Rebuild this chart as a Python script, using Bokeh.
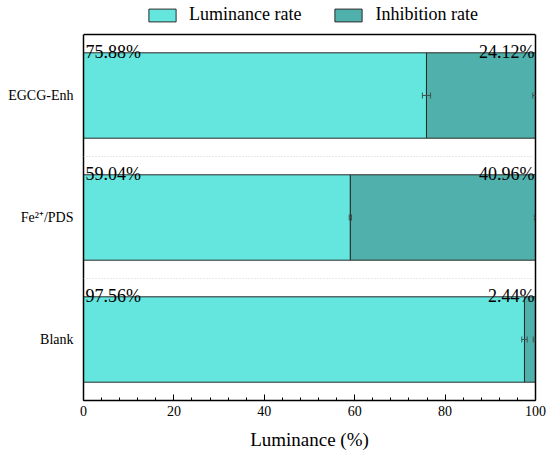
from bokeh.plotting import figure
from bokeh.models import (ColumnDataSource, Range1d, SingleIntervalTicker, FixedTicker,
                          Legend, LegendItem, Whisker, TeeHead, Span, LinearAxis)
from bokeh.core.properties import value
from bokeh.embed import file_html
from bokeh.resources import INLINE

categories = ["Blank", "Fe\u00b2\u207a/PDS", "EGCG-Enh"]
luminance = [97.56, 59.04, 75.88]
inhibition = [2.44, 40.96, 24.12]
lum_err = [0.6, 0.25, 0.9]
inh_err = [0.5, 0.25, 0.6]
x_ticks_interval = 20

FONT = "Liberation Serif"
C_LUM = "#64E6DE"
C_INH = "#50B1AC"

n = len(categories)
ypos = [i + 0.5 for i in range(n)]
total = [l + i for l, i in zip(luminance, inhibition)]
src = ColumnDataSource(dict(
    y=ypos, ylab=[y + 0.35 for y in ypos],
    lum=luminance, inh=inhibition, total=total,
    lum_lo=[l - e for l, e in zip(luminance, lum_err)],
    lum_hi=[l + e for l, e in zip(luminance, lum_err)],
    tot_lo=[t - e for t, e in zip(total, inh_err)],
    tot_hi=[t + e for t, e in zip(total, inh_err)],
    lum_txt=[f"{v:.2f}%" for v in luminance],
    inh_txt=[f"{v:.2f}%" for v in inhibition],
))

# box area: 366 px for the 3 categories, plus 34 px above it for the legend
FH = 400
top_extra = n * 34 / 366
p = figure(width=550, height=458, y_range=Range1d(0, n + top_extra),
           x_range=Range1d(0, 100), output_backend="svg", toolbar_location=None,
           min_border_left=83, min_border_right=15, min_border_top=0, min_border_bottom=58)

r_lum = p.hbar(y="y", left=0, right="lum", height=0.7, source=src,
               fill_color=C_LUM, line_color="#2a2a2a", line_width=1)
r_inh = p.hbar(y="y", left="lum", right="total", height=0.7, source=src,
               fill_color=C_INH, line_color="#2a2a2a", line_width=1)

for lo, hi in (("lum_lo", "lum_hi"), ("tot_lo", "tot_hi")):
    col = "#3d5553"
    w = Whisker(source=src, base="y", lower=lo, upper=hi, dimension="width",
                line_color=col, line_width=1, level="overlay",
                lower_head=TeeHead(size=6, line_color=col, line_width=1),
                upper_head=TeeHead(size=6, line_color=col, line_width=1))
    p.add_layout(w)

for loc in range(1, n):
    p.add_layout(Span(location=loc, dimension="width", line_color="#d0d0d0",
                      line_dash="1 2", line_width=1))
# top edge of the plotting box
p.add_layout(Span(location=n, dimension="width", line_color="black", line_width=1.5))

p.text(x=0, y="ylab", text="lum_txt", source=src,
       text_font=value(FONT), text_font_size="18px", text_align="left",
       text_baseline="alphabetic", x_offset=2, y_offset=-1, text_color="black")
p.text(x=100, y="ylab", text="inh_txt", source=src,
       text_font=value(FONT), text_font_size="18px", text_align="right",
       text_baseline="alphabetic", x_offset=-1, y_offset=-1, text_color="black")

p.xgrid.visible = False
p.ygrid.visible = False
p.outline_line_color = None

xa = p.xaxis[0]
xa.ticker = SingleIntervalTicker(interval=x_ticks_interval, num_minor_ticks=5)
xa.major_tick_in = 6
xa.major_tick_out = 0
xa.minor_tick_in = 3
xa.minor_tick_out = 0
xa.major_tick_line_color = "black"
xa.minor_tick_line_color = "black"
xa.axis_line_color = "black"
xa.axis_line_width = 1.5
xa.major_label_text_font = FONT
xa.major_label_text_font_size = "14px"
xa.major_label_text_color = "black"
xa.major_label_standoff = 5
xa.axis_label = "Luminance (%)"
xa.axis_label_text_font = FONT
xa.axis_label_text_font_size = "19px"
xa.axis_label_text_font_style = "normal"
xa.axis_label_text_color = "black"
xa.axis_label_standoff = 10

ya = p.yaxis[0]
ya.ticker = FixedTicker(ticks=ypos, minor_ticks=[])
ya.major_label_overrides = {y: c for y, c in zip(ypos, categories)}
ya.bounds = (0, n)
ya.major_tick_in = 0
ya.major_tick_out = 0
ya.minor_tick_in = 0
ya.minor_tick_out = 0
ya.axis_line_color = "black"
ya.axis_line_width = 1.5
ya.major_label_text_font = FONT
ya.major_label_text_font_size = "14px"
ya.major_label_text_color = "black"
ya.major_label_standoff = 10

ra = LinearAxis(ticker=FixedTicker(ticks=[]), bounds=(0, n), axis_line_color="black",
                axis_line_width=1.5, major_tick_in=0, major_tick_out=0,
                minor_tick_in=0, minor_tick_out=0, major_label_text_font_size="0px",
                major_label_standoff=0)
p.add_layout(ra, "right")

legend = Legend(items=[LegendItem(label="Luminance rate", renderers=[r_lum]),
                       LegendItem(label="Inhibition rate", renderers=[r_inh])],
                orientation="horizontal", location=(62, FH - 25),
                glyph_width=34, glyph_height=16, label_standoff=10, spacing=30,
                padding=0, margin=0, border_line_color=None, background_fill_alpha=0,
                label_text_font=FONT, label_text_font_size="18px", label_text_color="black")
p.add_layout(legend)

open("out.html", "w").write(file_html(p, INLINE))
